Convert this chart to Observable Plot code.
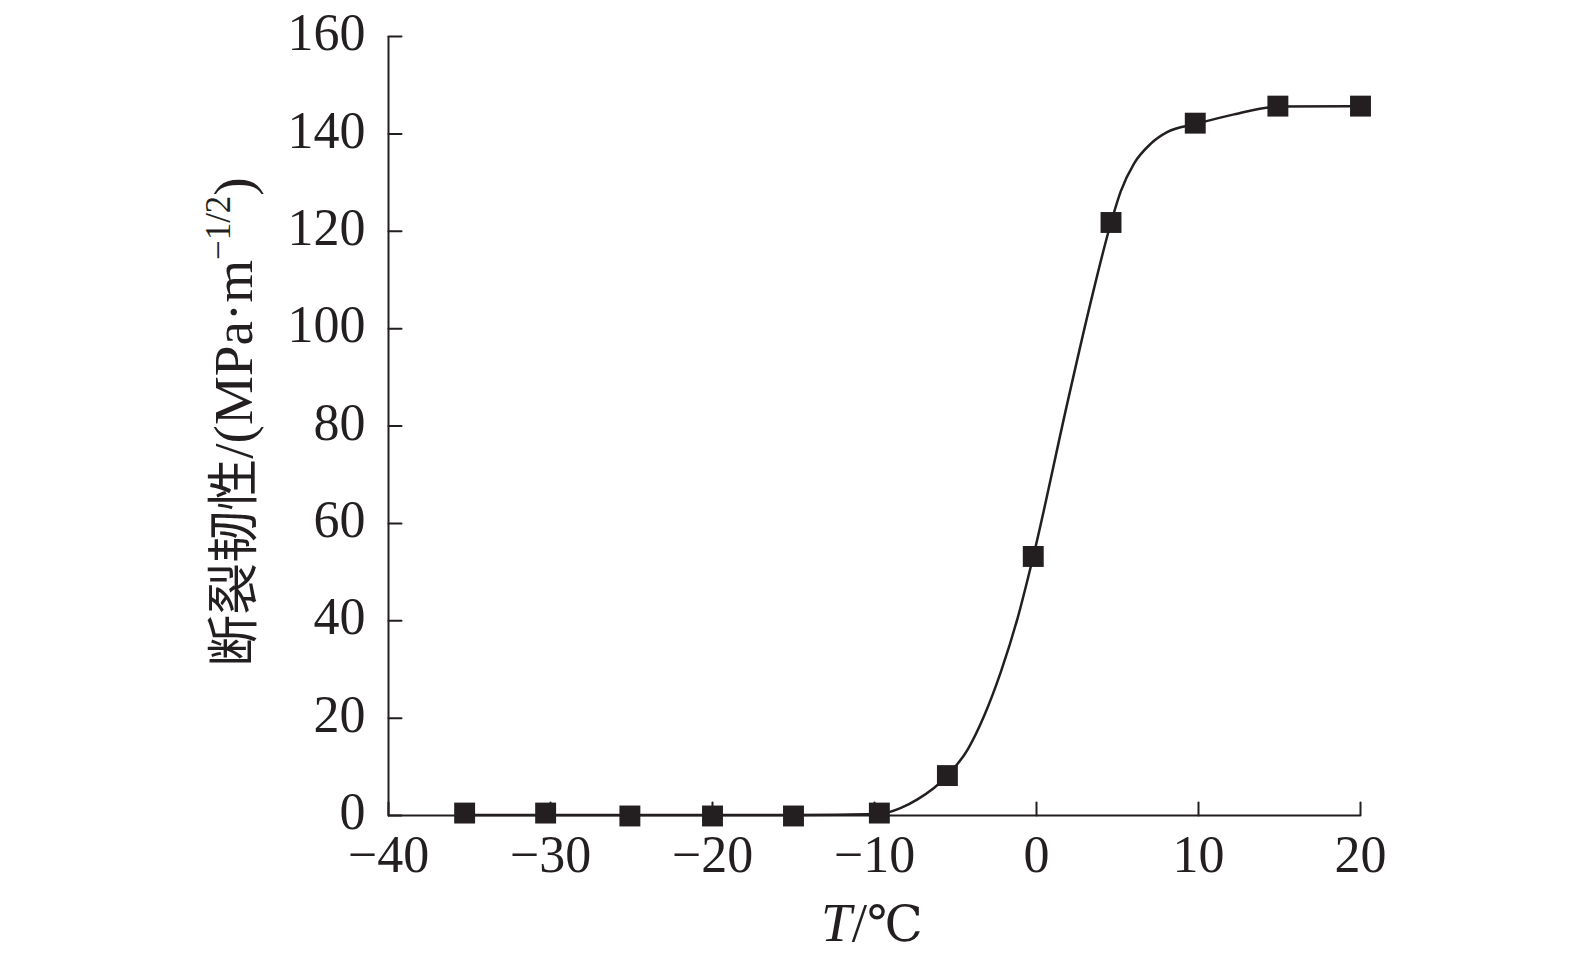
<!DOCTYPE html>
<html>
<head>
<meta charset="utf-8">
<script src="https://cdn.jsdelivr.net/npm/d3@7"></script>
<script src="https://cdn.jsdelivr.net/npm/@observablehq/plot@0.6"></script>
<style>
  html, body { margin: 0; padding: 0; background: #fff; }
</style>
</head>
<body>
<div id="chart"></div>
<script>
// Measured points (temperature °C, fracture toughness MPa·m^-1/2)
const pointT = [-35.3, -30.3, -25.1, -20.0, -15.0, -9.7, -5.5, -0.2, 4.6, 9.8, 14.9, 20.0];
const pointK = [0.5, 0.5, -0.1, -0.1, -0.1, 0.5, 8.2, 53.2, 121.8, 142.2, 145.7, 145.7];

// Fitted curve
const curveT = [-35.3, -30.3, -25.1, -20.0, -15.0, -9.7, -8.4, -7.35, -5.5, -4.26, -3.23, -2.2, -1.17, -0.2, 1.91, 3.35, 4.6, 5.2, 6.02, 7.06, 8.09, 9.8, 12.2, 14.9, 20.0];
const curveK = [0.1, 0.1, 0.1, 0.1, 0.1, 0.3, 1.5, 3.3, 8.2, 13.5, 20.5, 29.5, 40.5, 53.2, 84.8, 105.5, 121.8, 128.2, 133.9, 138.0, 140.4, 142.0, 144.0, 145.6, 145.7];

const xTicks = [-40, -30, -20, -10, 0, 10, 20];
const yTicks = [0, 20, 40, 60, 80, 100, 120, 140, 160];

const ink = "#231f20";
const points = pointT.map((t, i) => ({t, k: pointK[i]}));
const curve = curveT.map((t, i) => ({t, k: curveK[i]}));

const tickShape = {draw(context, l) { context.moveTo(0, 0); context.lineTo(0, -l); }};

const svg = Plot.plot({
  width: 1575,
  height: 963,
  marginLeft: 388,
  marginRight: 215,
  marginTop: 36,
  marginBottom: 148,
  style: {fontFamily: "'Liberation Serif', serif", color: ink, background: "#fff"},
  x: {domain: [-40, 20]},
  y: {domain: [0, 160]},
  marks: [
    Plot.axisX({ticks: xTicks, tickSize: 0, tickPadding: 20, fontSize: 52, label: null, fill: ink}),
    Plot.axisY({ticks: yTicks, tickSize: 0, tickPadding: 23, fontSize: 52, label: null, fill: ink, dy: -3}),
    Plot.vector(xTicks, {x: d => d, y: () => 0, length: 13, rotate: 0, anchor: "start", shape: tickShape, stroke: ink, strokeWidth: 2}),
    Plot.vector(yTicks, {x: () => -40, y: d => d, length: 13, rotate: 90, anchor: "start", shape: tickShape, stroke: ink, strokeWidth: 2}),
    Plot.ruleY([0], {stroke: ink, strokeWidth: 2}),
    Plot.ruleX([-40], {stroke: ink, strokeWidth: 2}),
    Plot.line(curve, {x: "t", y: "k", curve: "monotone-x", stroke: ink, strokeWidth: 2.5}),
    Plot.dot(points, {x: "t", y: "k", symbol: "square", r: 11.8, fill: ink, stroke: "none"})
  ]
});

const s = d3.select(svg);
// y-axis title
const yt = s.append("text")
  .attr("transform", "translate(252,422) rotate(-90)")
  .attr("text-anchor", "middle")
  .attr("fill", ink)
  .style("font-size", "55px")
  .style("font-family", "'Liberation Serif', serif");
yt.append("tspan").style("font-family", "'Noto Sans CJK SC', sans-serif").style("font-size", "52px").text("断裂韧性");
yt.append("tspan").text("/(MPa·m");
yt.append("tspan").attr("dy", -22).style("font-size", "35px").text("−1/2");
yt.append("tspan").attr("dy", 22).text(")");

// x-axis title
const xt = s.append("text")
  .attr("x", 872).attr("y", 941)
  .attr("text-anchor", "middle")
  .attr("fill", ink)
  .style("font-size", "55px")
  .style("font-family", "'Liberation Serif', 'DejaVu Serif', serif");
xt.append("tspan").style("font-style", "italic").text("T");
xt.append("tspan").text("/");
xt.append("tspan").style("font-family", "'DejaVu Serif', serif").style("font-size", "50px").text("℃");

document.getElementById("chart").appendChild(svg);
</script>
</body>
</html>
